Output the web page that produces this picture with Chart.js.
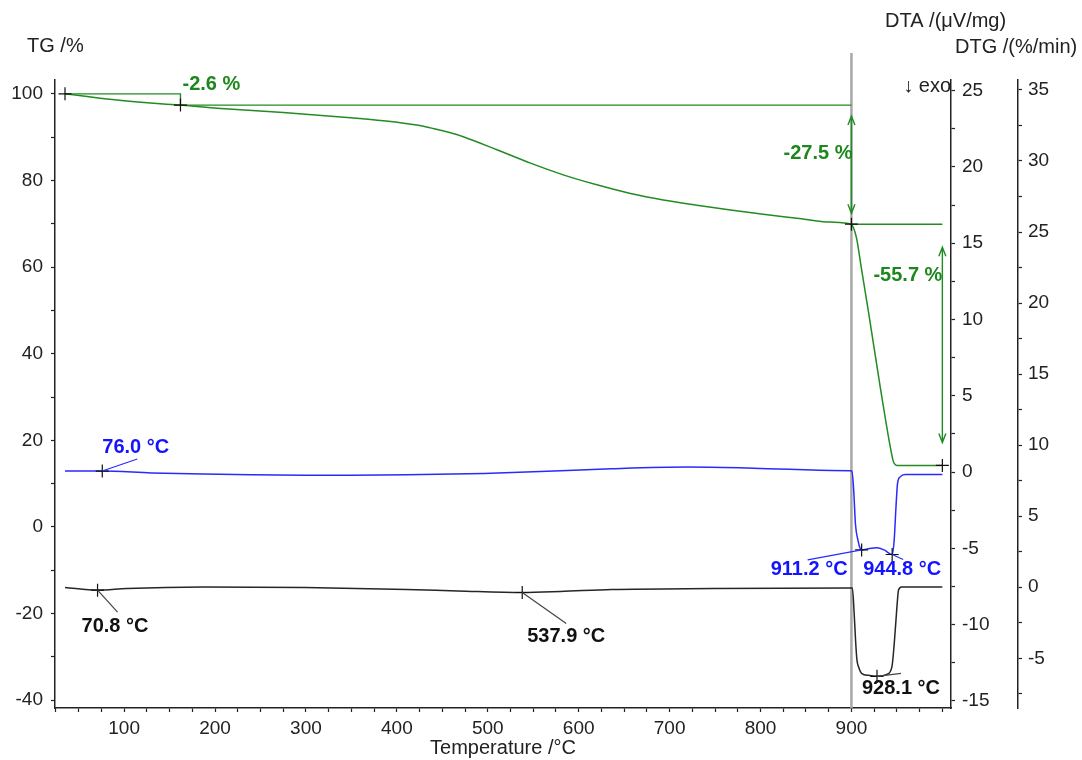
<!DOCTYPE html>
<html>
<head>
<meta charset="utf-8">
<title>TG / DTA / DTG</title>
<script src="https://cdn.jsdelivr.net/npm/chart.js@4.4.1/dist/chart.umd.min.js"></script>
<style>
  html, body { margin: 0; padding: 0; background: #fff; }
  canvas { display: block; }
</style>
</head>
<body>
<canvas id="thermo" width="1082" height="760"></canvas>
<script>
// TG: mass in % against temperature in °C
var tgTemp  = [35, 55, 92, 129, 162, 202, 275, 349, 385, 422, 440, 459, 473, 510, 547, 583, 620, 657, 693, 730, 767, 803, 840, 877, 900, 902, 904, 906, 910, 919, 931.6, 942.7, 946, 948, 950, 1000];
var tgValue = [100, 99.5, 98.6, 97.9, 97.4, 96.7, 95.7, 94.5, 93.8, 92.8, 92.0, 91.0, 90.1, 87.1, 84.0, 81.3, 79.0, 77.0, 75.5, 74.3, 73.2, 72.2, 71.3, 70.4, 69.9, 69.2, 68.0, 66.3, 61.0, 49.3, 32.4, 18.5, 15.2, 14.4, 14.2, 14.2];

// DTA in µV/mg
var dtaTemp  = [35, 75, 130, 187, 240, 299, 350, 411, 496, 580, 636, 720, 777, 832, 898, 900.5, 902.5, 904.4, 907.3, 909.6, 911.2, 920, 928, 936, 944.8, 947, 949, 950.7, 953.6, 959, 1000];
var dtaValue = [0.07, 0.07, -0.05, -0.13, -0.18, -0.2, -0.2, -0.18, -0.09, 0.09, 0.22, 0.33, 0.28, 0.18, 0.09, 0.08, -1.2, -3.4, -4.5, -5.0, -5.1, -5.0, -4.96, -5.1, -5.4, -4.46, -2.27, -0.74, -0.31, -0.15, -0.15];

// DTG in %/min
var dtgTemp  = [35, 70.8, 103, 187, 299, 411, 467, 537.9, 580, 636, 748, 898, 901, 903, 904.5, 906, 907.8, 911.5, 918.8, 928.1, 939, 944.5, 947.4, 950, 951.8, 955, 1000];
var dtgValue = [-0.02, -0.21, -0.09, 0.02, -0.02, -0.16, -0.26, -0.37, -0.3, -0.16, -0.09, -0.05, -0.05, -1.85, -3.7, -5.1, -5.6, -6.08, -6.2, -6.27, -6.13, -5.6, -3.7, -1.4, -0.2, 0.02, 0.02];

// mass loss steps: evaluation temperatures and TG levels
var stepTemp  = [35, 162, 900, 1000];
var stepLevel = [100, 97.4, 69.9, 14.2];

// peak temperatures picked on DTA and DTG
var dtaPeakTemp  = [76.0, 911.2, 944.8];
var dtaPeakValue = [0.07, -5.1, -5.4];
var dtgPeakTemp  = [70.8, 537.9, 928.1];
var dtgPeakValue = [-0.21, -0.37, -6.27];

// segment change (heating -> isothermal/gas switch)
var segmentTemp = 900;

// axis ticks
var xTicks   = [25, 50, 75, 100, 125, 150, 175, 200, 225, 250, 275, 300, 325, 350, 375, 400, 425, 450, 475, 500, 525, 550, 575, 600, 625, 650, 675, 700, 725, 750, 775, 800, 825, 850, 875, 900, 925, 950, 975, 1000];
var xLabels  = [100, 200, 300, 400, 500, 600, 700, 800, 900];
var tgTicks  = [-40, -30, -20, -10, 0, 10, 20, 30, 40, 50, 60, 70, 80, 90, 100];
var tgLabels = [-40, -20, 0, 20, 40, 60, 80, 100];
var dtaTicks  = [-15, -12.5, -10, -7.5, -5, -2.5, 0, 2.5, 5, 7.5, 10, 12.5, 15, 17.5, 20, 22.5, 25];
var dtaLabels = [-15, -10, -5, 0, 5, 10, 15, 20, 25];
var dtgTicks  = [-7.5, -5, -2.5, 0, 2.5, 5, 7.5, 10, 12.5, 15, 17.5, 20, 22.5, 25, 27.5, 30, 32.5, 35];
var dtgLabels = [-5, 0, 5, 10, 15, 20, 25, 30, 35];

var GREEN = '#228b22';
var GREEN_TEXT = '#1d861d';
var BLUE = '#2a2aff';
var BLUE_TEXT = '#1414ff';
var DARK = '#262626';
var FONT = "'Liberation Sans', Arial, sans-serif";

// where the peak labels and leader lines sit, in px from the picked point
var dtaPeakLayout = [
    { lead: [35, -12], text: [0, -24], align: 'left' },
    { lead: [-54, 10], text: [-14, 20], align: 'right' },
    { lead: [11, 5], text: [-29, 15], align: 'left' }
];
var dtgPeakLayout = [
    { lead: [20, 22], text: [-16, 36], align: 'left' },
    { lead: [44, 31], text: [5, 44], align: 'left' },
    { lead: [24, -3], text: [-15, 12], align: 'left' }
];

function points(xs, ys) {
    return xs.map(function (x, i) { return { x: x, y: ys[i] }; });
}

function curve(data, color, axis) {
    return {
        data: data, yAxisID: axis,
        borderColor: color, borderWidth: 1.5,
        pointRadius: 0, cubicInterpolationMode: 'monotone'
    };
}

function segment(data, color, axis) {
    return {
        data: data, yAxisID: axis,
        borderColor: color, borderWidth: 1.4,
        pointRadius: 0, tension: 0
    };
}

function crosses(data, axis) {
    return {
        data: data, yAxisID: axis, showLine: false,
        pointStyle: 'cross', pointRadius: 6.5,
        pointBorderColor: '#111', pointBorderWidth: 1.2,
        pointHoverRadius: 6.5
    };
}

// step lines: level before the first step, then the evaluated level carried to the next step
var stepLine1 = [
    { x: stepTemp[0], y: stepLevel[0] }, { x: stepTemp[1], y: stepLevel[0] },
    { x: stepTemp[1], y: stepLevel[1] }, { x: stepTemp[2], y: stepLevel[1] }
];
var stepLine2 = [{ x: stepTemp[2], y: stepLevel[2] }, { x: stepTemp[3], y: stepLevel[2] }];

function pickAxis(ticks, labels, pos, min, max, width, pad) {
    return {
        type: 'linear', position: pos, min: min, max: max,
        afterBuildTicks: function (axis) {
            axis.ticks = ticks.map(function (v) { return { value: v }; });
        },
        afterFit: function (axis) { axis.width = width; },
        ticks: {
            autoSkip: false, padding: pad, color: '#222',
            font: { family: FONT, size: 19 },
            callback: function (v) { return labels.indexOf(v) >= 0 ? String(v) : ''; }
        },
        grid: { drawOnChartArea: false, color: '#222', tickLength: 4, tickWidth: 1.2 },
        border: { color: '#222', width: 1.5 }
    };
}

function drawText(ctx, str, x, y, color, align, bold) {
    ctx.font = (bold ? 'bold ' : '') + '20px ' + FONT;
    ctx.fillStyle = color;
    ctx.textAlign = align;
    ctx.textBaseline = 'middle';
    ctx.fillText(str, x, y);
}

function doubleArrow(ctx, x, yTop, yBottom) {
    ctx.beginPath();
    ctx.moveTo(x, yTop); ctx.lineTo(x, yBottom);
    ctx.moveTo(x - 3.5, yTop + 9); ctx.lineTo(x, yTop); ctx.lineTo(x + 3.5, yTop + 9);
    ctx.moveTo(x - 3.5, yBottom - 9); ctx.lineTo(x, yBottom); ctx.lineTo(x + 3.5, yBottom - 9);
    ctx.stroke();
}

var thermoMarks = {
    id: 'thermoMarks',
    beforeDatasetsDraw: function (chart) {
        var ctx = chart.ctx, area = chart.chartArea;
        var x = chart.scales.x.getPixelForValue(segmentTemp);
        ctx.save();
        ctx.strokeStyle = '#a8a8a8';
        ctx.lineWidth = 2.5;
        ctx.beginPath();
        ctx.moveTo(x, area.top - 27);
        ctx.lineTo(x, area.bottom);
        ctx.stroke();
        ctx.restore();
    },
    afterDatasetsDraw: function (chart) {
        var ctx = chart.ctx;
        var sx = chart.scales.x, sTG = chart.scales.yTG, sDTA = chart.scales.yDTA, sDTG = chart.scales.yDTG;
        ctx.save();

        // mass loss arrows and values
        ctx.strokeStyle = GREEN;
        ctx.lineWidth = 1.4;
        var arrowInset = [11, 23];
        for (var i = 1; i < stepLevel.length - 1; i++) {
            var ax = sx.getPixelForValue(stepTemp[i + 1]);
            var yA = sTG.getPixelForValue(stepLevel[i]) + arrowInset[i - 1];
            var yB = sTG.getPixelForValue(stepLevel[i + 1]) - arrowInset[i - 1];
            doubleArrow(ctx, ax, yA, yB);
        }
        var step1 = (stepLevel[1] - stepLevel[0]).toFixed(1) + ' %';
        var step2 = (stepLevel[2] - stepLevel[1]).toFixed(1) + ' %';
        var step3 = (stepLevel[3] - stepLevel[2]).toFixed(1) + ' %';
        drawText(ctx, step1, sx.getPixelForValue(stepTemp[1]) + 2, sTG.getPixelForValue(stepLevel[1]) - 21, GREEN_TEXT, 'left', true);
        drawText(ctx, step2, sx.getPixelForValue(stepTemp[2]) + 1, sTG.getPixelForValue(stepLevel[1]) + 48, GREEN_TEXT, 'right', true);
        drawText(ctx, step3, sx.getPixelForValue(stepTemp[3]), sTG.getPixelForValue(stepLevel[2]) + 51, GREEN_TEXT, 'right', true);

        // peak leaders and labels
        function peaks(temps, values, scale, layout, lineColor, textColor) {
            temps.forEach(function (t, k) {
                var px = sx.getPixelForValue(t), py = scale.getPixelForValue(values[k]);
                var l = layout[k];
                ctx.strokeStyle = lineColor;
                ctx.lineWidth = 1.2;
                ctx.beginPath();
                ctx.moveTo(px, py);
                ctx.lineTo(px + l.lead[0], py + l.lead[1]);
                ctx.stroke();
                drawText(ctx, t.toFixed(1) + ' °C', px + l.text[0], py + l.text[1], textColor, l.align, true);
            });
        }
        peaks(dtaPeakTemp, dtaPeakValue, sDTA, dtaPeakLayout, BLUE, BLUE_TEXT);
        peaks(dtgPeakTemp, dtgPeakValue, sDTG, dtgPeakLayout, '#444', '#111');
        ctx.restore();
    },
    afterDraw: function (chart) {
        var ctx = chart.ctx, area = chart.chartArea;
        ctx.save();
        drawText(ctx, 'TG /%', 27, 46, '#222', 'left', false);
        drawText(ctx, 'DTA /(μV/mg)', 885, 21, '#222', 'left', false);
        drawText(ctx, 'DTG /(%/min)', 955, 47, '#222', 'left', false);
        drawText(ctx, '↓ exo', area.right, area.top + 6, '#222', 'right', false);
        drawText(ctx, 'Temperature /°C', (area.left + area.right) / 2, area.bottom + 40, '#222', 'center', false);
        ctx.restore();
    }
};

var ctx = document.getElementById('thermo').getContext('2d');

var chart = new Chart(ctx, {
    type: 'line',
    data: {
        datasets: [
            crosses(points(stepTemp, stepLevel), 'yTG'),
            crosses(points(dtaPeakTemp, dtaPeakValue), 'yDTA'),
            crosses(points(dtgPeakTemp, dtgPeakValue), 'yDTG'),
            curve(points(tgTemp, tgValue), GREEN, 'yTG'),
            curve(points(dtaTemp, dtaValue), BLUE, 'yDTA'),
            curve(points(dtgTemp, dtgValue), DARK, 'yDTG'),
            segment(stepLine1, GREEN, 'yTG'),
            segment(stepLine2, GREEN, 'yTG')
        ]
    },
    options: {
        responsive: false,
        animation: false,
        events: [],
        layout: { padding: { top: 80, left: 0, right: 0, bottom: 0 } },
        plugins: { legend: { display: false }, tooltip: { enabled: false } },
        scales: {
            x: {
                type: 'linear', position: 'bottom', min: 24, max: 1009.5,
                afterBuildTicks: function (axis) {
                    axis.ticks = xTicks.map(function (v) { return { value: v }; });
                },
                afterFit: function (axis) { axis.height = 52; },
                ticks: {
                    autoSkip: false, maxRotation: 0, padding: 5, color: '#222',
                    font: { family: FONT, size: 19 },
                    callback: function (v) { return xLabels.indexOf(v) >= 0 ? String(v) : ''; }
                },
                grid: { drawOnChartArea: false, color: '#222', tickLength: 4, tickWidth: 1.2 },
                border: { color: '#222', width: 1.5 }
            },
            yTG: pickAxis(tgTicks, tgLabels, 'left', -41.8, 103.2, 55, 8),
            yDTA: pickAxis(dtaTicks, dtaLabels, 'right', -15.46, 25.7, 67, 7),
            yDTG: pickAxis(dtgTicks, dtgLabels, 'right', -8.5, 35.7, 64, 6)
        }
    },
    plugins: [thermoMarks]
});
</script>
</body>
</html>
